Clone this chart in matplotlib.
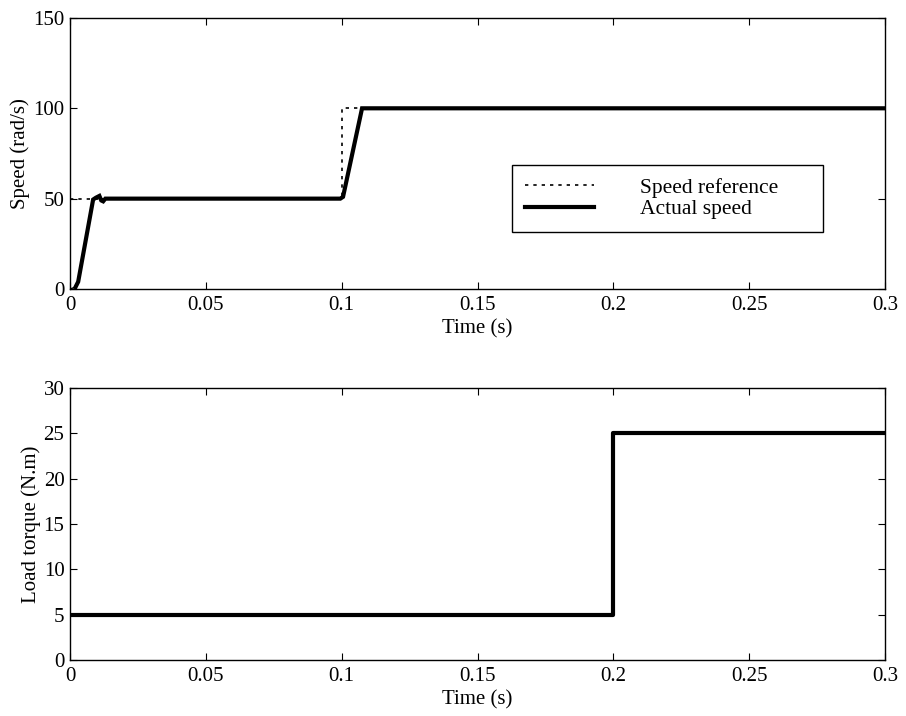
import matplotlib
matplotlib.use("Agg")
import matplotlib.pyplot as plt

plt.rcParams['font.family'] = ['Liberation Serif', 'DejaVu Serif']
plt.rcParams['font.size'] = 15

# Speed reference (rad/s)
ref_t = [0.0, 0.1, 0.1, 0.3]
ref_w = [50, 50, 100, 100]

# Actual speed (rad/s)
act_t = [0.0, 0.002, 0.003, 0.0085, 0.0095, 0.0108, 0.0115, 0.0122, 0.013, 0.05, 0.0995, 0.1005, 0.1075, 0.11, 0.2, 0.3]
act_w = [0.0, 1.0, 4.0, 49.5, 50.5, 51.5, 49.0, 48.5, 50.0, 50.0, 50.0, 51.0, 100.0, 100.0, 100.0, 100.0]

# Load torque (N.m)
tq_t = [0.0, 0.2, 0.2, 0.3]
tq_v = [5, 5, 25, 25]

fig = plt.figure(figsize=(9.06, 7.16), dpi=100)
ax1 = fig.add_axes([0.0773, 0.5964, 0.8995, 0.3785])
ax2 = fig.add_axes([0.0773, 0.0782, 0.8995, 0.3799])

ax1.plot(ref_t, ref_w, color='black', linestyle=(0, (2, 3)), linewidth=1.2, label='Speed reference')
ax1.plot(act_t[:2], act_w[:2], color='black', linewidth=1.0)
ax1.plot(act_t[1:], act_w[1:], color='black', linewidth=3, label='Actual speed', solid_joinstyle='miter')
ax1.set_xlim(0, 0.3)
ax1.set_ylim(0, 150)
ax1.set_xticks([0, 0.05, 0.1, 0.15, 0.2, 0.25, 0.3])
ax1.set_xticklabels(['0', '0.05', '0.1', '0.15', '0.2', '0.25', '0.3'])
ax1.set_yticks([0, 50, 100, 150])
ax1.set_xlabel('Time (s)', labelpad=3)
ax1.set_ylabel('Speed (rad/s)', labelpad=2)
leg = ax1.legend(loc='lower left', bbox_to_anchor=(0.542, 0.21, 0.382, 0.273), mode='expand',
                 frameon=True, fancybox=False, edgecolor='black', framealpha=1,
                 handlelength=3.2, handletextpad=2.15, borderpad=0.6, labelspacing=0.05,
                 borderaxespad=0, fontsize=15.5)
leg.get_frame().set_linewidth(1.0)

ax2.plot(tq_t, tq_v, color='black', linewidth=3)
ax2.set_xlim(0, 0.3)
ax2.set_ylim(0, 30)
ax2.set_xticks([0, 0.05, 0.1, 0.15, 0.2, 0.25, 0.3])
ax2.set_xticklabels(['0', '0.05', '0.1', '0.15', '0.2', '0.25', '0.3'])
ax2.set_yticks([0, 5, 10, 15, 20, 25, 30])
ax2.set_xlabel('Time (s)', labelpad=3)
ax2.set_ylabel('Load torque (N.m)', labelpad=2)

for ax in (ax1, ax2):
    ax.tick_params(direction='in', top=True, right=True, length=5, width=0.8)
    ax.tick_params(axis='x', pad=5)
    ax.tick_params(axis='y', pad=4)
    for s in ax.spines.values():
        s.set_linewidth(1.0)

fig.savefig('out.png', dpi=100)
